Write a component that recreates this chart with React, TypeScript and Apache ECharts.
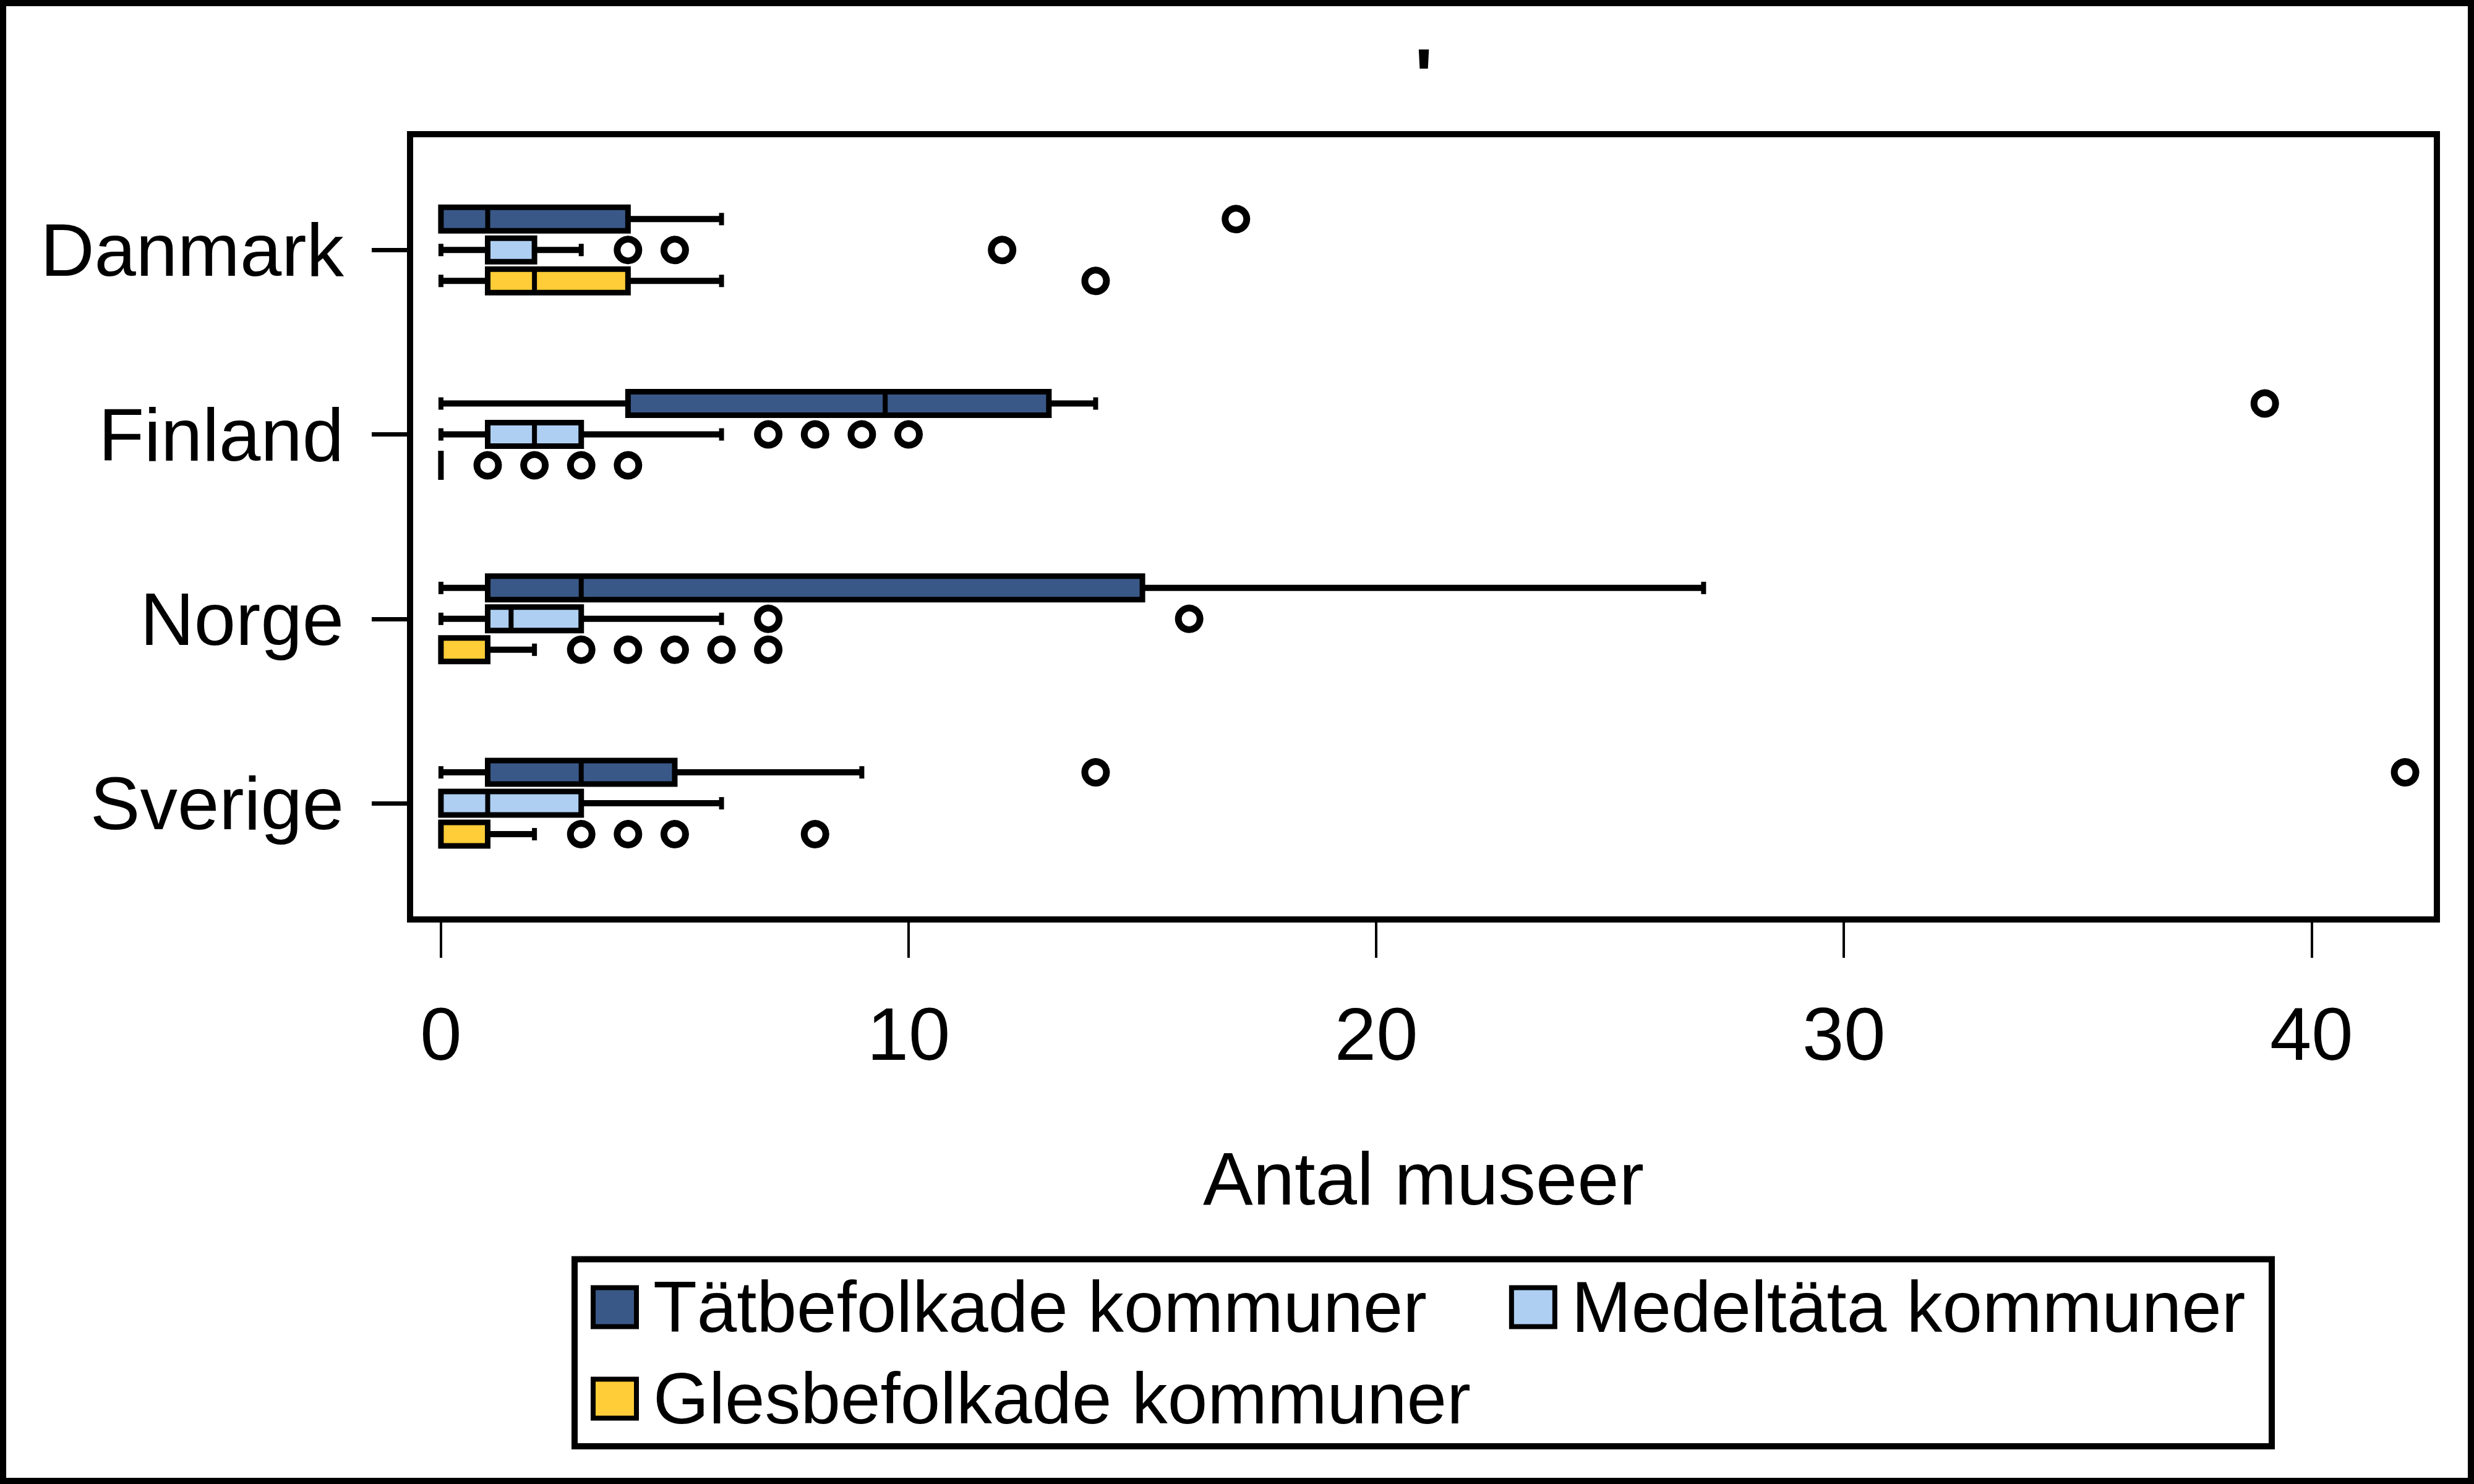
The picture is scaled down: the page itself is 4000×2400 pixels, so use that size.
import { useEffect, useRef } from "react";
import * as echarts from "echarts";

// Countries on the vertical axis (top to bottom)
const countries = ["Danmark", "Finland", "Norge", "Sverige"];
// Municipality groups, one box per country each
const groups = ["Tätbefolkade kommuner", "Medeltäta kommuner", "Glesbefolkade kommuner"];
const groupColors = ["#395887", "#aecff2", "#fecd37"];

// Box statistics per country: [lower whisker, Q1, median, Q3, upper whisker]
const tatStats = [
  [0, 0, 1, 4, 6],
  [0, 4, 9.5, 13, 14],
  [0, 1, 3, 15, 27],
  [0, 1, 3, 5, 9],
];
const medelStats = [
  [0, 1, 1, 2, 3],
  [0, 1, 2, 3, 6],
  [0, 1, 1.5, 3, 6],
  [0, 0, 1, 3, 6],
];
const glesStats = [
  [0, 1, 2, 4, 6],
  [0, 0, 0, 0, 0],
  [0, 0, 0, 1, 2],
  [0, 0, 0, 1, 2],
];

// Outliers per country
const tatOutliers = [[17], [39], [], [14, 42]];
const medelOutliers = [[4, 5, 12], [7, 8, 9, 10], [7, 16], []];
const glesOutliers = [[14], [1, 2, 3, 4], [3, 4, 5, 6, 7], [3, 4, 5, 8]];

const xTickValues = [0, 10, 20, 30, 40];
const yTickValues = [0, 1, 2, 3];

const allStats = [tatStats, medelStats, glesStats];
const allOutliers = [tatOutliers, medelOutliers, glesOutliers];

// Layout constants
const SUB_OFFSETS = [-0.1676, 0, 0.1676]; // sub-row shift within a country, in axis units
const BOX_HALF = 19;
const CAP_HALF = 10;
const BOX_LINE = 9;
const WHISKER_LINE = 10;
const MEDIAN_LINE = 8;
const FRAME_LINE = 10;
const FONT = "'Liberation Sans', Arial, Helvetica, sans-serif";

function makeRenderItem(color: string) {
  return (_params: any, api: any) => {
    const yv = api.value(0);
    const y = api.coord([0, yv])[1];
    const xLo = api.coord([api.value(1), yv])[0];
    const xQ1 = api.coord([api.value(2), yv])[0];
    const xMed = api.coord([api.value(3), yv])[0];
    const xQ3 = api.coord([api.value(4), yv])[0];
    const xHi = api.coord([api.value(5), yv])[0];
    const children: any[] = [];
    const seg = (x1: number, y1: number, x2: number, y2: number, w: number) =>
      children.push({
        type: "line",
        shape: { x1, y1, x2, y2 },
        style: { stroke: "#000", lineWidth: w, fill: null },
      });
    if (xLo < xQ1) {
      seg(xLo, y, xQ1, y, WHISKER_LINE);
      seg(xLo, y - CAP_HALF, xLo, y + CAP_HALF, WHISKER_LINE - 2);
    }
    if (xHi > xQ3) {
      seg(xQ3, y, xHi, y, WHISKER_LINE);
      seg(xHi, y - CAP_HALF, xHi, y + CAP_HALF, WHISKER_LINE - 2);
    }
    if (xQ3 > xQ1) {
      children.push({
        type: "rect",
        shape: { x: xQ1, y: y - BOX_HALF, width: xQ3 - xQ1, height: BOX_HALF * 2 },
        style: { fill: color, stroke: "#000", lineWidth: BOX_LINE },
      });
      seg(xMed, y - BOX_HALF, xMed, y + BOX_HALF, MEDIAN_LINE);
    } else {
      seg(xQ1, y - BOX_HALF - BOX_LINE / 2, xQ1, y + BOX_HALF + BOX_LINE / 2, BOX_LINE);
    }
    return { type: "group", children };
  };
}

function legendItem(i: number) {
  return {
    name: groups[i],
    icon: "rect",
    itemStyle: { color: groupColors[i], borderColor: "#000", borderWidth: 8 },
  };
}

export default function App() {
  const ref = useRef<HTMLDivElement>(null);

  useEffect(() => {
    if (!ref.current) return;
    const chart = echarts.init(ref.current, undefined, { renderer: "svg" });

    const boxSeries = groups.map((name, k) => ({
      name,
      type: "custom",
      renderItem: makeRenderItem(groupColors[k]),
      encode: { x: [1, 2, 3, 4, 5], y: 0 },
      data: countries.map((_, i) => [i + SUB_OFFSETS[k], ...allStats[k][i]]),
      z: 2,
    }));

    const outlierSeries = groups.map((name, k) => ({
      name,
      type: "scatter",
      symbol: "circle",
      symbolSize: 35,
      itemStyle: { color: "rgba(255,255,255,0)", borderColor: "#000", borderWidth: 11, opacity: 1 },
      emphasis: { disabled: true },
      data: allOutliers[k].flatMap((vals, i) => vals.map((v) => [v, i + SUB_OFFSETS[k]])),
      z: 3,
    }));

    const legendText = {
      fontSize: 116,
      fontFamily: FONT,
      color: "#000",
      padding: [0, 0, 0, 22],
    };

    chart.setOption({
      animation: false,
      backgroundColor: "#fff",
      title: {
        text: "'",
        left: 2302,
        top: 61,
        textAlign: "center",
        padding: 0,
        textStyle: { fontSize: 124, fontWeight: "bold", fontFamily: FONT, color: "#000" },
      },
      grid: {
        left: 663,
        top: 217,
        width: 3277,
        height: 1270,
        show: true,
        borderColor: "#000",
        borderWidth: FRAME_LINE,
        backgroundColor: "transparent",
        outerBoundsMode: "none",
      },
      xAxis: {
        type: "value",
        min: -0.66,
        max: 42.68,
        axisLine: { show: false, onZero: false },
        splitLine: { show: false },
        axisTick: {
          show: true,
          length: 62,
          customValues: xTickValues,
          lineStyle: { color: "#000", width: 4 },
        },
        axisLabel: {
          customValues: xTickValues,
          fontSize: 121,
          fontFamily: FONT,
          color: "#000",
          margin: 124,
        },
        name: "Antal museer",
        nameLocation: "middle",
        nameGap: 358,
        nameTextStyle: { fontSize: 121, fontFamily: FONT, color: "#000" },
      },
      yAxis: {
        type: "value",
        inverse: true,
        min: -0.628,
        max: 3.63,
        axisLine: { show: false, onZero: false },
        splitLine: { show: false },
        axisTick: {
          show: true,
          length: 62,
          customValues: yTickValues,
          lineStyle: { color: "#000", width: 7 },
        },
        axisLabel: {
          customValues: yTickValues,
          formatter: (v: number) => countries[Math.round(v)] ?? "",
          fontSize: 121,
          fontFamily: FONT,
          color: "#000",
          margin: 107,
        },
      },
      legend: [
        {
          data: [legendItem(0), legendItem(1)],
          orient: "horizontal",
          left: 955,
          top: 2056,
          padding: 0,
          itemWidth: 70,
          itemHeight: 63,
          itemGap: 133,
          textStyle: legendText,
        },
        {
          data: [legendItem(2)],
          orient: "horizontal",
          left: 955,
          top: 2204,
          padding: 0,
          itemWidth: 70,
          itemHeight: 63,
          itemGap: 133,
          textStyle: legendText,
        },
      ],
      graphic: [
        {
          type: "rect",
          shape: { x: 929, y: 2036.5, width: 2744, height: 302.5 },
          style: { fill: "none", stroke: "#000", lineWidth: FRAME_LINE },
          silent: true,
        },
        {
          type: "rect",
          shape: { x: 5, y: 5, width: 3990, height: 2390 },
          style: { fill: "none", stroke: "#000", lineWidth: FRAME_LINE },
          silent: true,
        },
      ],
      series: [...boxSeries, ...outlierSeries],
    });

    return () => chart.dispose();
  }, []);

  return (
    <div
      ref={ref}
      style={{ position: "absolute", left: 0, top: 0, width: 4000, height: 2400 }}
    />
  );
}
